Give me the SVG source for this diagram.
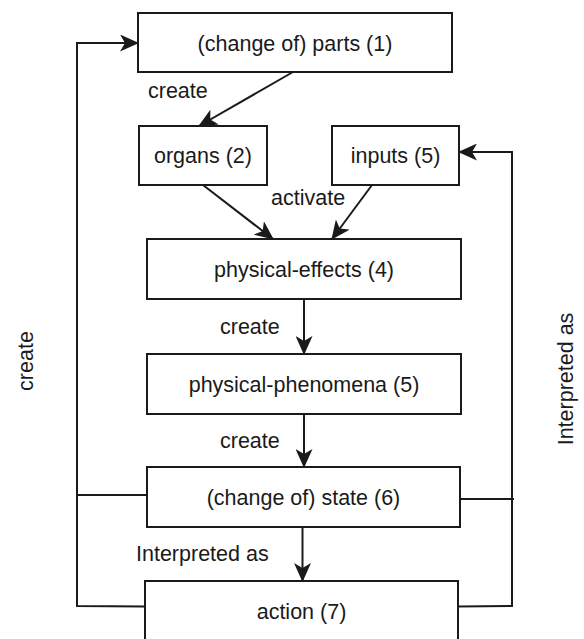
<svg xmlns="http://www.w3.org/2000/svg" width="584" height="639" viewBox="0 0 584 639">
  <defs>
    <style>
      .box { fill: #ffffff; stroke: #1a1a1a; stroke-width: 2; }
      .lbl { font-family: "Liberation Sans", Arial, sans-serif; font-size: 21.5px; fill: #1a1a1a; }
      .mid { text-anchor: middle; }
      .edge { fill: none; stroke: #1a1a1a; stroke-width: 2; }
      .arr { marker-end: url(#ah); }
    </style>
    <marker id="ah" markerUnits="userSpaceOnUse" viewBox="0 0 19 17" refX="18" refY="8.5" markerWidth="19" markerHeight="17" orient="auto">
      <path d="M19,8.5 L0,0 L5,8.5 L0,17 Z" fill="#1a1a1a"/>
    </marker>
  </defs>
  <rect width="584" height="639" fill="#ffffff"/>

  <g id="connectors">
    <path class="edge arr" d="M293,72 L199,126"/>
    <path class="edge arr" d="M203,185 L273,239"/>
    <path class="edge arr" d="M372,185 L332,239"/>
    <path class="edge arr" d="M304,299 L304,354"/>
    <path class="edge arr" d="M304,414 L304,467"/>
    <path class="edge arr" d="M302.5,527 L302.5,581"/>
    <path class="edge" d="M147,495 L77,495"/>
    <path class="edge arr" d="M145,606.5 L77,606 L77,43 L138,43"/>
    <path class="edge" d="M460,499 L514,499"/>
    <path class="edge arr" d="M458,606.5 L512,606 L512,152 L459,152"/>
    <text class="lbl" x="148" y="98">create</text>
    <text class="lbl" x="271" y="205">activate</text>
    <text class="lbl" x="220" y="334">create</text>
    <text class="lbl" x="220" y="448">create</text>
    <text class="lbl" x="136" y="561">Interpreted as</text>
    <text class="lbl mid" transform="translate(33,361) rotate(-90)">create</text>
    <text class="lbl mid" transform="translate(573,379) rotate(-90)">Interpreted as</text>
  </g>

  <g id="node-parts">
    <rect class="box" x="138" y="13" width="314" height="59"/>
    <text class="lbl mid" x="295" y="50.5">(change of) parts (1)</text>
  </g>
  <g id="node-organs">
    <rect class="box" x="139" y="126" width="128" height="59"/>
    <text class="lbl mid" x="203" y="163">organs (2)</text>
  </g>
  <g id="node-inputs">
    <rect class="box" x="332" y="126" width="127" height="59"/>
    <text class="lbl mid" x="395.5" y="163">inputs (5)</text>
  </g>
  <g id="node-effects">
    <rect class="box" x="147" y="239" width="314" height="60"/>
    <text class="lbl mid" x="304" y="277">physical-effects (4)</text>
  </g>
  <g id="node-phenomena">
    <rect class="box" x="147" y="354" width="314" height="60"/>
    <text class="lbl mid" x="304" y="392">physical-phenomena (5)</text>
  </g>
  <g id="node-state">
    <rect class="box" x="147" y="467" width="313" height="60"/>
    <text class="lbl mid" x="303.5" y="505">(change of) state (6)</text>
  </g>
  <g id="node-action">
    <rect class="box" x="145" y="581" width="313" height="80"/>
    <text class="lbl mid" x="301.5" y="619">action (7)</text>
  </g>
</svg>
